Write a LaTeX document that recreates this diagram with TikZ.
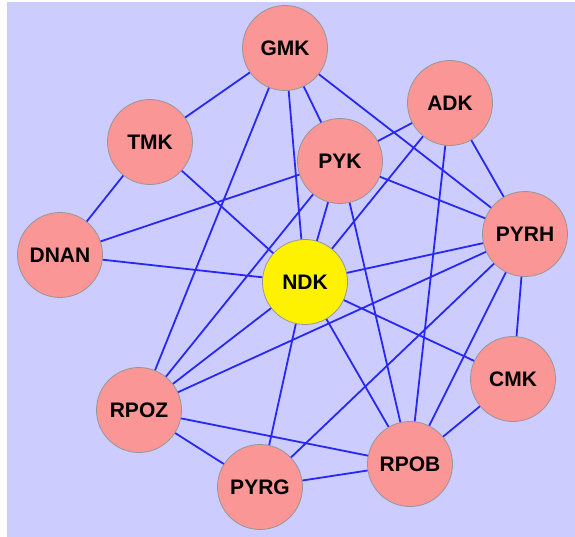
\documentclass[tikz,border=0pt]{standalone}
\usepackage{fontspec}
\setmainfont{Liberation Sans}
\definecolor{bgc}{RGB}{204,204,255}
\definecolor{nodec}{RGB}{250,150,150}
\definecolor{edgec}{RGB}{40,40,245}
\definecolor{rimc}{RGB}{150,150,150}
\begin{document}
\begin{tikzpicture}[x=1pt,y=-1pt,
  vert/.style={circle,draw=rimc,line width=0.8pt,fill=nodec,minimum size=85pt,inner sep=0pt,font=\fontsize{21}{25}\selectfont\bfseries},
  hub/.style={vert,fill=yellow},
  link/.style={draw=edgec,line width=1.8pt}]
\useasboundingbox (0,0) rectangle (575,537);
\fill[white] (0,0) rectangle (575,537);
\fill[bgc] (7,2) rectangle (575,537);
\node[vert] (GMK) at (285,48) {GMK};
\node[vert] (TMK) at (150,142) {TMK};
\node[vert] (ADK) at (450,103) {ADK};
\node[vert] (PYK) at (340,161) {PYK};
\node[vert] (DNAN) at (60,255) {DNAN};
\node[vert] (PYRH) at (525,234) {PYRH};
\node[hub] (NDK) at (305,282) {NDK};
\node[vert] (CMK) at (513,379) {CMK};
\node[vert] (RPOZ) at (139,410) {RPOZ};
\node[vert] (RPOB) at (410,464) {RPOB};
\node[vert] (PYRG) at (260,487) {PYRG};
\path[link]
 (GMK)--(TMK) (GMK)--(PYK) (GMK)--(NDK) (GMK)--(RPOZ) (GMK)--(PYRH)
 (TMK)--(DNAN) (TMK)--(NDK)
 (DNAN)--(PYK) (DNAN)--(NDK)
 (ADK)--(PYK) (ADK)--(NDK) (ADK)--(RPOB) (ADK)--(PYRH)
 (PYK)--(PYRH) (PYK)--(NDK) (PYK)--(RPOZ) (PYK)--(RPOB)
 (PYRH)--(NDK) (PYRH)--(RPOZ) (PYRH)--(PYRG) (PYRH)--(RPOB) (PYRH)--(CMK)
 (NDK)--(RPOZ) (NDK)--(CMK) (NDK)--(RPOB) (NDK)--(PYRG)
 (CMK)--(RPOB)
 (RPOZ)--(RPOB) (RPOZ)--(PYRG)
 (RPOB)--(PYRG);
\end{tikzpicture}
\end{document}
